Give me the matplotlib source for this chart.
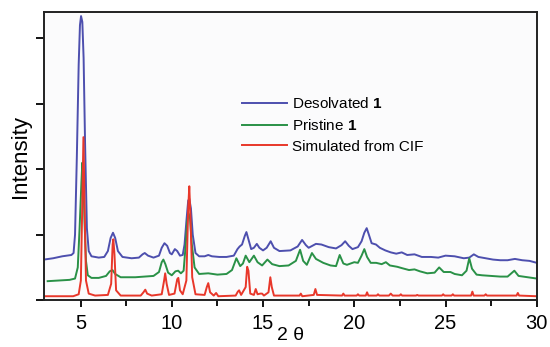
import numpy as np
import matplotlib.pyplot as plt

plt.rcParams['font.family'] = ['Liberation Sans', 'DejaVu Sans']
plt.rcParams['mathtext.fontset'] = 'custom'
plt.rcParams['mathtext.bf'] = 'Liberation Sans:bold'
plt.rcParams['mathtext.rm'] = 'Liberation Sans'

# Desolvated 1 (blue)
x_des = [3.0, 3.5, 4.0, 4.5, 4.62, 4.7, 4.8, 4.9, 4.97, 5.03, 5.1, 5.17, 5.25, 5.35, 5.45,
         5.6, 6.0, 6.3, 6.5, 6.65, 6.78, 6.9, 7.05, 7.3, 7.8, 8.2, 8.4, 8.52, 8.7, 9.0,
         9.3, 9.45, 9.6, 9.75, 9.9, 10.0, 10.17, 10.3, 10.45, 10.6, 10.7, 10.8, 10.9, 10.96,
         11.05, 11.15, 11.3, 11.5, 11.8, 12.0, 12.2, 12.6, 13.0, 13.4, 13.6, 13.72, 13.85,
         14.0, 14.09, 14.2, 14.35, 14.5, 14.66, 14.8, 15.0, 15.2, 15.42, 15.6, 15.9, 16.5,
         16.9, 17.14, 17.35, 17.5, 17.9, 18.2, 18.6, 19.0, 19.3, 19.5, 19.7, 19.9, 20.2,
         20.4, 20.55, 20.68, 20.8, 20.95, 21.19, 21.4, 21.7, 22.0, 22.3, 22.6, 22.9, 23.3,
         23.7, 24.2, 24.6, 25.0, 25.5, 26.0, 26.3, 26.55, 26.8, 27.2, 27.6, 28.0, 28.4,
         28.8, 29.2, 29.6, 30.0]
y_des = [0.62, 0.64, 0.67, 0.69, 0.72, 1.0, 2.2, 3.6, 4.2, 4.34, 4.25, 3.7, 2.4, 1.1, 0.75,
         0.67, 0.65, 0.66, 0.75, 0.95, 1.03, 0.95, 0.75, 0.66, 0.64, 0.65, 0.70, 0.72, 0.68, 0.65,
         0.68, 0.80, 0.87, 0.83, 0.72, 0.70, 0.78, 0.75, 0.68, 0.69, 0.85, 1.2, 1.52, 1.55,
         1.4, 1.0, 0.72, 0.67, 0.67, 0.69, 0.67, 0.66, 0.66, 0.68, 0.78, 0.82, 0.85,
         0.98, 1.04, 0.93, 0.78, 0.80, 0.86, 0.80, 0.76, 0.80, 0.90, 0.80, 0.75, 0.76,
         0.82, 0.92, 0.84, 0.80, 0.86, 0.85, 0.81, 0.79, 0.84, 0.90, 0.83, 0.78, 0.81,
         0.90, 1.03, 1.10, 1.0, 0.87, 0.85, 0.80, 0.76, 0.73, 0.71, 0.73, 0.69, 0.70,
         0.66, 0.66, 0.65, 0.68, 0.67, 0.64, 0.65, 0.70, 0.66, 0.64, 0.62, 0.61, 0.61,
         0.63, 0.61, 0.60, 0.57]

# Pristine 1 (green)
x_pri = [3.2, 3.8, 4.4, 4.7, 4.85, 4.95, 5.05, 5.1, 5.15, 5.22, 5.3, 5.4, 5.6, 6.0, 6.4,
         6.6, 6.75, 6.9, 7.2, 8.0, 8.5, 9.0, 9.3, 9.45, 9.54, 9.65, 9.8, 10.0, 10.2, 10.35,
         10.5, 10.65, 10.75, 10.85, 10.92, 11.0, 11.1, 11.25, 11.5, 12.0, 12.5, 13.0, 13.3,
         13.54, 13.75, 13.9, 14.05, 14.25, 14.5, 14.7, 14.95, 15.24, 15.5, 15.9, 16.4, 16.8,
         17.03, 17.2, 17.4, 17.68, 17.9, 18.3, 18.7, 19.0, 19.2, 19.4, 19.6, 20.0, 20.2,
         20.4, 20.55, 20.7, 20.9, 21.2, 21.5, 21.73, 21.95, 22.35, 22.6, 23.0, 23.3, 23.6,
         24.0, 24.4, 24.65, 24.9, 25.27, 25.5, 25.9, 26.15, 26.3, 26.45, 26.7, 27.0, 27.5,
         28.0, 28.4, 28.77, 29.0, 29.5, 30.0]
y_pri = [0.29, 0.30, 0.31, 0.33, 0.5, 1.1, 1.8, 2.1, 1.95, 1.2, 0.6, 0.38, 0.34, 0.34, 0.37,
         0.44, 0.46, 0.40, 0.35, 0.35, 0.36, 0.37, 0.43, 0.58, 0.62, 0.55, 0.42, 0.38, 0.44, 0.45,
         0.41, 0.45, 0.8, 1.2, 1.33, 1.25, 0.85, 0.5, 0.40, 0.41, 0.39, 0.40, 0.46,
         0.64, 0.52, 0.56, 0.68, 0.58, 0.68, 0.58, 0.53, 0.62, 0.55, 0.52, 0.53, 0.60,
         0.77, 0.60, 0.54, 0.72, 0.63, 0.57, 0.53, 0.52, 0.69, 0.56, 0.54, 0.58, 0.57,
         0.68, 0.78, 0.66, 0.57, 0.57, 0.55, 0.58, 0.53, 0.51, 0.49, 0.46, 0.47, 0.44,
         0.41, 0.42, 0.50, 0.43, 0.43, 0.40, 0.38, 0.45, 0.64, 0.48, 0.39, 0.38, 0.37,
         0.36, 0.36, 0.45, 0.37, 0.35, 0.33]

# Simulated from CIF (red)
x_sim = [3.0, 4.6, 4.9, 5.02, 5.1, 5.16, 5.22, 5.3, 5.45, 5.8, 6.5, 6.68, 6.76, 6.8, 6.86,
         6.95, 7.2, 8.3, 8.45, 8.55, 8.65, 8.9, 9.45, 9.58, 9.64, 9.72, 9.85, 10.15, 10.3,
         10.36, 10.45, 10.6, 10.8, 10.9, 10.96, 11.02, 11.12, 11.3, 11.8, 11.92, 12.0, 12.1,
         12.3, 12.43, 12.55, 13.5, 13.62, 13.69, 13.8, 14.05, 14.13, 14.2, 14.3, 14.5, 14.6,
         14.7, 14.85, 14.95, 15.05, 15.3, 15.4, 15.48, 15.6, 17.0, 17.07, 17.15, 17.78, 17.87,
         17.96, 19.33, 19.4, 19.47, 20.13, 20.2, 20.27, 20.63, 20.7, 20.77, 21.23, 21.3, 21.37,
         21.9, 22.0, 22.1, 22.48, 22.55, 22.62, 23.38, 23.45, 23.52, 24.8, 24.87, 24.94, 25.33,
         25.4, 25.47, 26.4, 26.47, 26.54, 27.13, 27.2, 27.27, 28.89, 28.96, 29.03, 30.0]
y_sim = [0.06, 0.06, 0.09, 0.3, 1.5, 2.49, 1.5, 0.3, 0.10, 0.07, 0.08, 0.25, 0.85, 0.93, 0.7,
         0.15, 0.07, 0.07, 0.12, 0.16, 0.10, 0.07, 0.09, 0.30, 0.41, 0.25, 0.08, 0.10, 0.32,
         0.34, 0.15, 0.09, 0.3, 1.4, 1.74, 1.3, 0.35, 0.09, 0.08, 0.2, 0.26, 0.12,
         0.07, 0.11, 0.06, 0.07, 0.13, 0.15, 0.08, 0.2, 0.51, 0.45, 0.10, 0.08, 0.17,
         0.09, 0.10, 0.10, 0.07, 0.12, 0.35, 0.20, 0.07, 0.07, 0.10, 0.06, 0.08, 0.17,
         0.08, 0.07, 0.10, 0.07, 0.07, 0.09, 0.07, 0.07, 0.12, 0.07, 0.07, 0.09, 0.07,
         0.07, 0.10, 0.07, 0.07, 0.09, 0.07, 0.07, 0.08, 0.07, 0.07, 0.09, 0.07, 0.07,
         0.09, 0.07, 0.07, 0.13, 0.07, 0.07, 0.09, 0.07, 0.07, 0.11, 0.07, 0.06]

fig = plt.figure(figsize=(5.5, 3.47), dpi=100)
ax = fig.add_axes([0.08, 0.135, 0.896, 0.83])
ax.set_facecolor('#fbfbfc')

ax.plot(x_des, y_des, color='#4d4fae', lw=1.4, label=r'Desolvated $\mathbf{1}$')
ax.plot(x_pri, y_pri, color='#2a9147', lw=1.4, label=r'Pristine $\mathbf{1}$')
ax.plot(x_sim, y_sim, color='#e8372a', lw=1.4, label='Simulated from CIF')

ax.set_xlim(3, 30)
ax.set_ylim(0, 4.4)
ax.set_xticks([5, 10, 15, 20, 25, 30])
ax.set_xticks([7.5, 12.5, 17.5, 22.5, 27.5], minor=True)
ax.set_yticks([0, 1, 2, 3, 4])
ax.set_yticklabels([])
ax.tick_params(axis='x', which='major', direction='out', length=5, width=1.3, labelsize=14.5, pad=5)
ax.tick_params(axis='x', which='minor', direction='out', length=4, width=1.3)
ax.tick_params(axis='y', direction='out', length=6, width=1.3)
for s in ax.spines.values():
    s.set_linewidth(1.4)
    s.set_color('#222222')

ax.set_xlabel('2 θ', fontsize=14, labelpad=-4)
ax.set_ylabel('Intensity', fontsize=16, labelpad=0)

ax.legend(loc='upper left', bbox_to_anchor=(0.39, 0.73), frameon=False, fontsize=11,
          handlelength=2.9, handletextpad=0.35, labelspacing=0.45, borderaxespad=0)

fig.savefig('out.png', dpi=100)
